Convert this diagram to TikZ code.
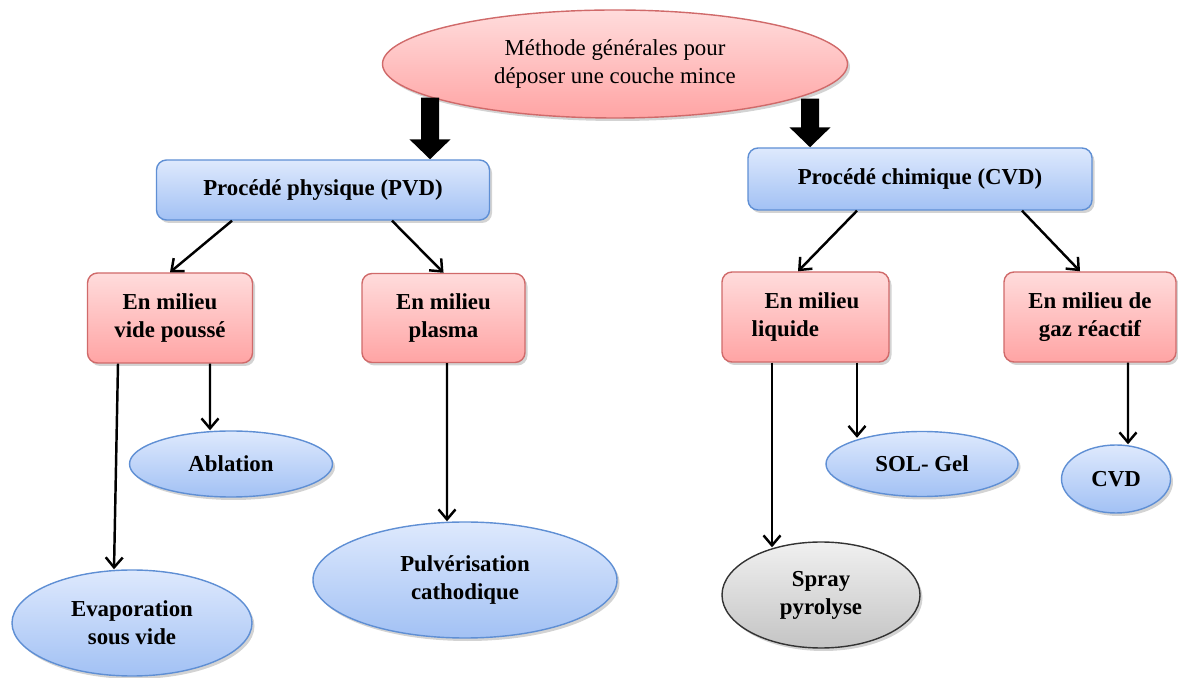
\documentclass[tikz,border=0pt]{standalone}
\usepackage{fontspec}
\setmainfont{Liberation Serif}
\usepackage{xcolor}
\usepackage{tikz}
\usetikzlibrary{shapes.geometric,arrows.meta,shadows}

\definecolor{pinkTop}{HTML}{FFDCDC}
\definecolor{pinkBot}{HTML}{FFA4A4}
\definecolor{pinkLine}{HTML}{D06A6A}
\definecolor{blueTop}{HTML}{DEE9FD}
\definecolor{blueBot}{HTML}{A2C1F4}
\definecolor{blueLine}{HTML}{5F8FD4}
\definecolor{grayTop}{HTML}{F0F0F0}
\definecolor{grayBot}{HTML}{C4C4C4}

\begin{document}
\begin{tikzpicture}[
    shade/.style={drop shadow={shadow xshift=0.05cm, shadow yshift=-0.06cm, opacity=0.35}},
    pinkbox/.style={rectangle, rounded corners=0.2cm, draw=pinkLine, thick, top color=pinkTop, bottom color=pinkBot, shade, font=\fontsize{13}{16}\selectfont\bfseries, align=center},
    bluebox/.style={rectangle, rounded corners=0.2cm, draw=blueLine, thick, top color=blueTop, bottom color=blueBot, shade, font=\fontsize{13}{16}\selectfont\bfseries, align=center},
    leaf/.style={ellipse, draw=blueLine, thick, top color=blueTop, bottom color=blueBot, shade, inner sep=0pt, font=\fontsize{13}{16}\selectfont\bfseries, align=center},
    arr/.style={-{Straight Barb[length=0.2cm, width=0.34cm]}, line width=1.4pt},
    bigarr/.style={-{Triangle[length=0.4cm, width=0.8cm]}, line width=0.36cm}]

    \useasboundingbox (0,0) rectangle (23.56,13.54);

    % top of the tree
    \node[ellipse, draw=pinkLine, thick, top color=pinkTop, bottom color=pinkBot, shade, minimum width=9.3cm, minimum height=2.16cm, inner sep=0pt, align=center, font=\fontsize{13}{16}\selectfont] (meth) at (12.30,12.26) {Méthode générales pour\\déposer une couche mince};

    \node[bluebox, minimum width=6.66cm, minimum height=1.2cm] (pvd) at (6.46,9.74) {Procédé physique (PVD)};
    \node[bluebox, minimum width=6.88cm, minimum height=1.24cm] (cvd) at (18.40,9.96) {Procédé chimique (CVD)};

    \node[pinkbox, minimum width=3.3cm, minimum height=1.8cm] (vide) at (3.40,7.18) {En milieu\\vide poussé};
    \node[pinkbox, minimum width=3.26cm, minimum height=1.78cm] (plasma) at (8.87,7.18) {En milieu\\plasma};
    \node[pinkbox, minimum width=3.34cm, minimum height=1.8cm, align=left] (liq) at (16.11,7.20) {\hspace{0.26cm}En milieu\\liquide};
    \node[pinkbox, minimum width=3.44cm, minimum height=1.8cm] (gaz) at (21.80,7.20) {En milieu de\\gaz réactif};

    % leaves
    \node[leaf, minimum width=4.06cm, minimum height=1.32cm] (abl) at (4.62,4.26) {Ablation};
    \node[leaf, minimum width=4.8cm, minimum height=2.12cm] (evap) at (2.64,1.08) {Evaporation\\sous vide};
    \node[leaf, minimum width=6.08cm, minimum height=2.32cm] (pulv) at (9.30,1.94) {Pulvérisation\\cathodique};
    \node[leaf, minimum width=3.84cm, minimum height=1.3cm] (sol) at (18.44,4.26) {SOL- Gel};
    \node[leaf, minimum width=2.18cm, minimum height=1.36cm] (cvdd) at (22.32,3.96) {CVD};
    \node[leaf, draw=black!80, top color=grayTop, bottom color=grayBot, minimum width=3.96cm, minimum height=2.12cm] (spray) at (16.42,1.64) {Spray\\pyrolyse};

    \draw[bigarr] ([xshift=-3.7cm, yshift=0.42cm]meth.south) -- ([xshift=2.14cm]pvd.north);
    \draw[bigarr] ([xshift=3.9cm, yshift=0.4cm]meth.south) -- ([xshift=-2.2cm]cvd.north);

    \draw[arr] ([xshift=-1.82cm]pvd.south) -- (vide.north);
    \draw[arr] ([xshift=1.38cm]pvd.south) -- (plasma.north);
    \draw[arr] ([xshift=-1.26cm]cvd.south) -- ([xshift=-0.15cm]liq.north);
    \draw[arr] ([xshift=2.04cm]cvd.south) -- ([xshift=-0.2cm]gaz.north);

    \draw[arr] ([xshift=-1.04cm]vide.south) -- ([xshift=-0.36cm]evap.north);
    \draw[arr] ([xshift=0.8cm]vide.south) -- ([xshift=-0.42cm]abl.north);
    \draw[arr] ([xshift=0.07cm]plasma.south) -- ([xshift=-0.36cm]pulv.north);
    \draw[arr] ([xshift=-0.67cm]liq.south) -- ([xshift=-0.98cm, yshift=-0.12cm]spray.north);
    \draw[arr] ([xshift=1.03cm]liq.south) -- ([xshift=-1.3cm, yshift=-0.14cm]sol.north);
    \draw[arr] ([xshift=0.76cm]gaz.south) -- ([xshift=0.24cm]cvdd.north);
\end{tikzpicture}
\end{document}
